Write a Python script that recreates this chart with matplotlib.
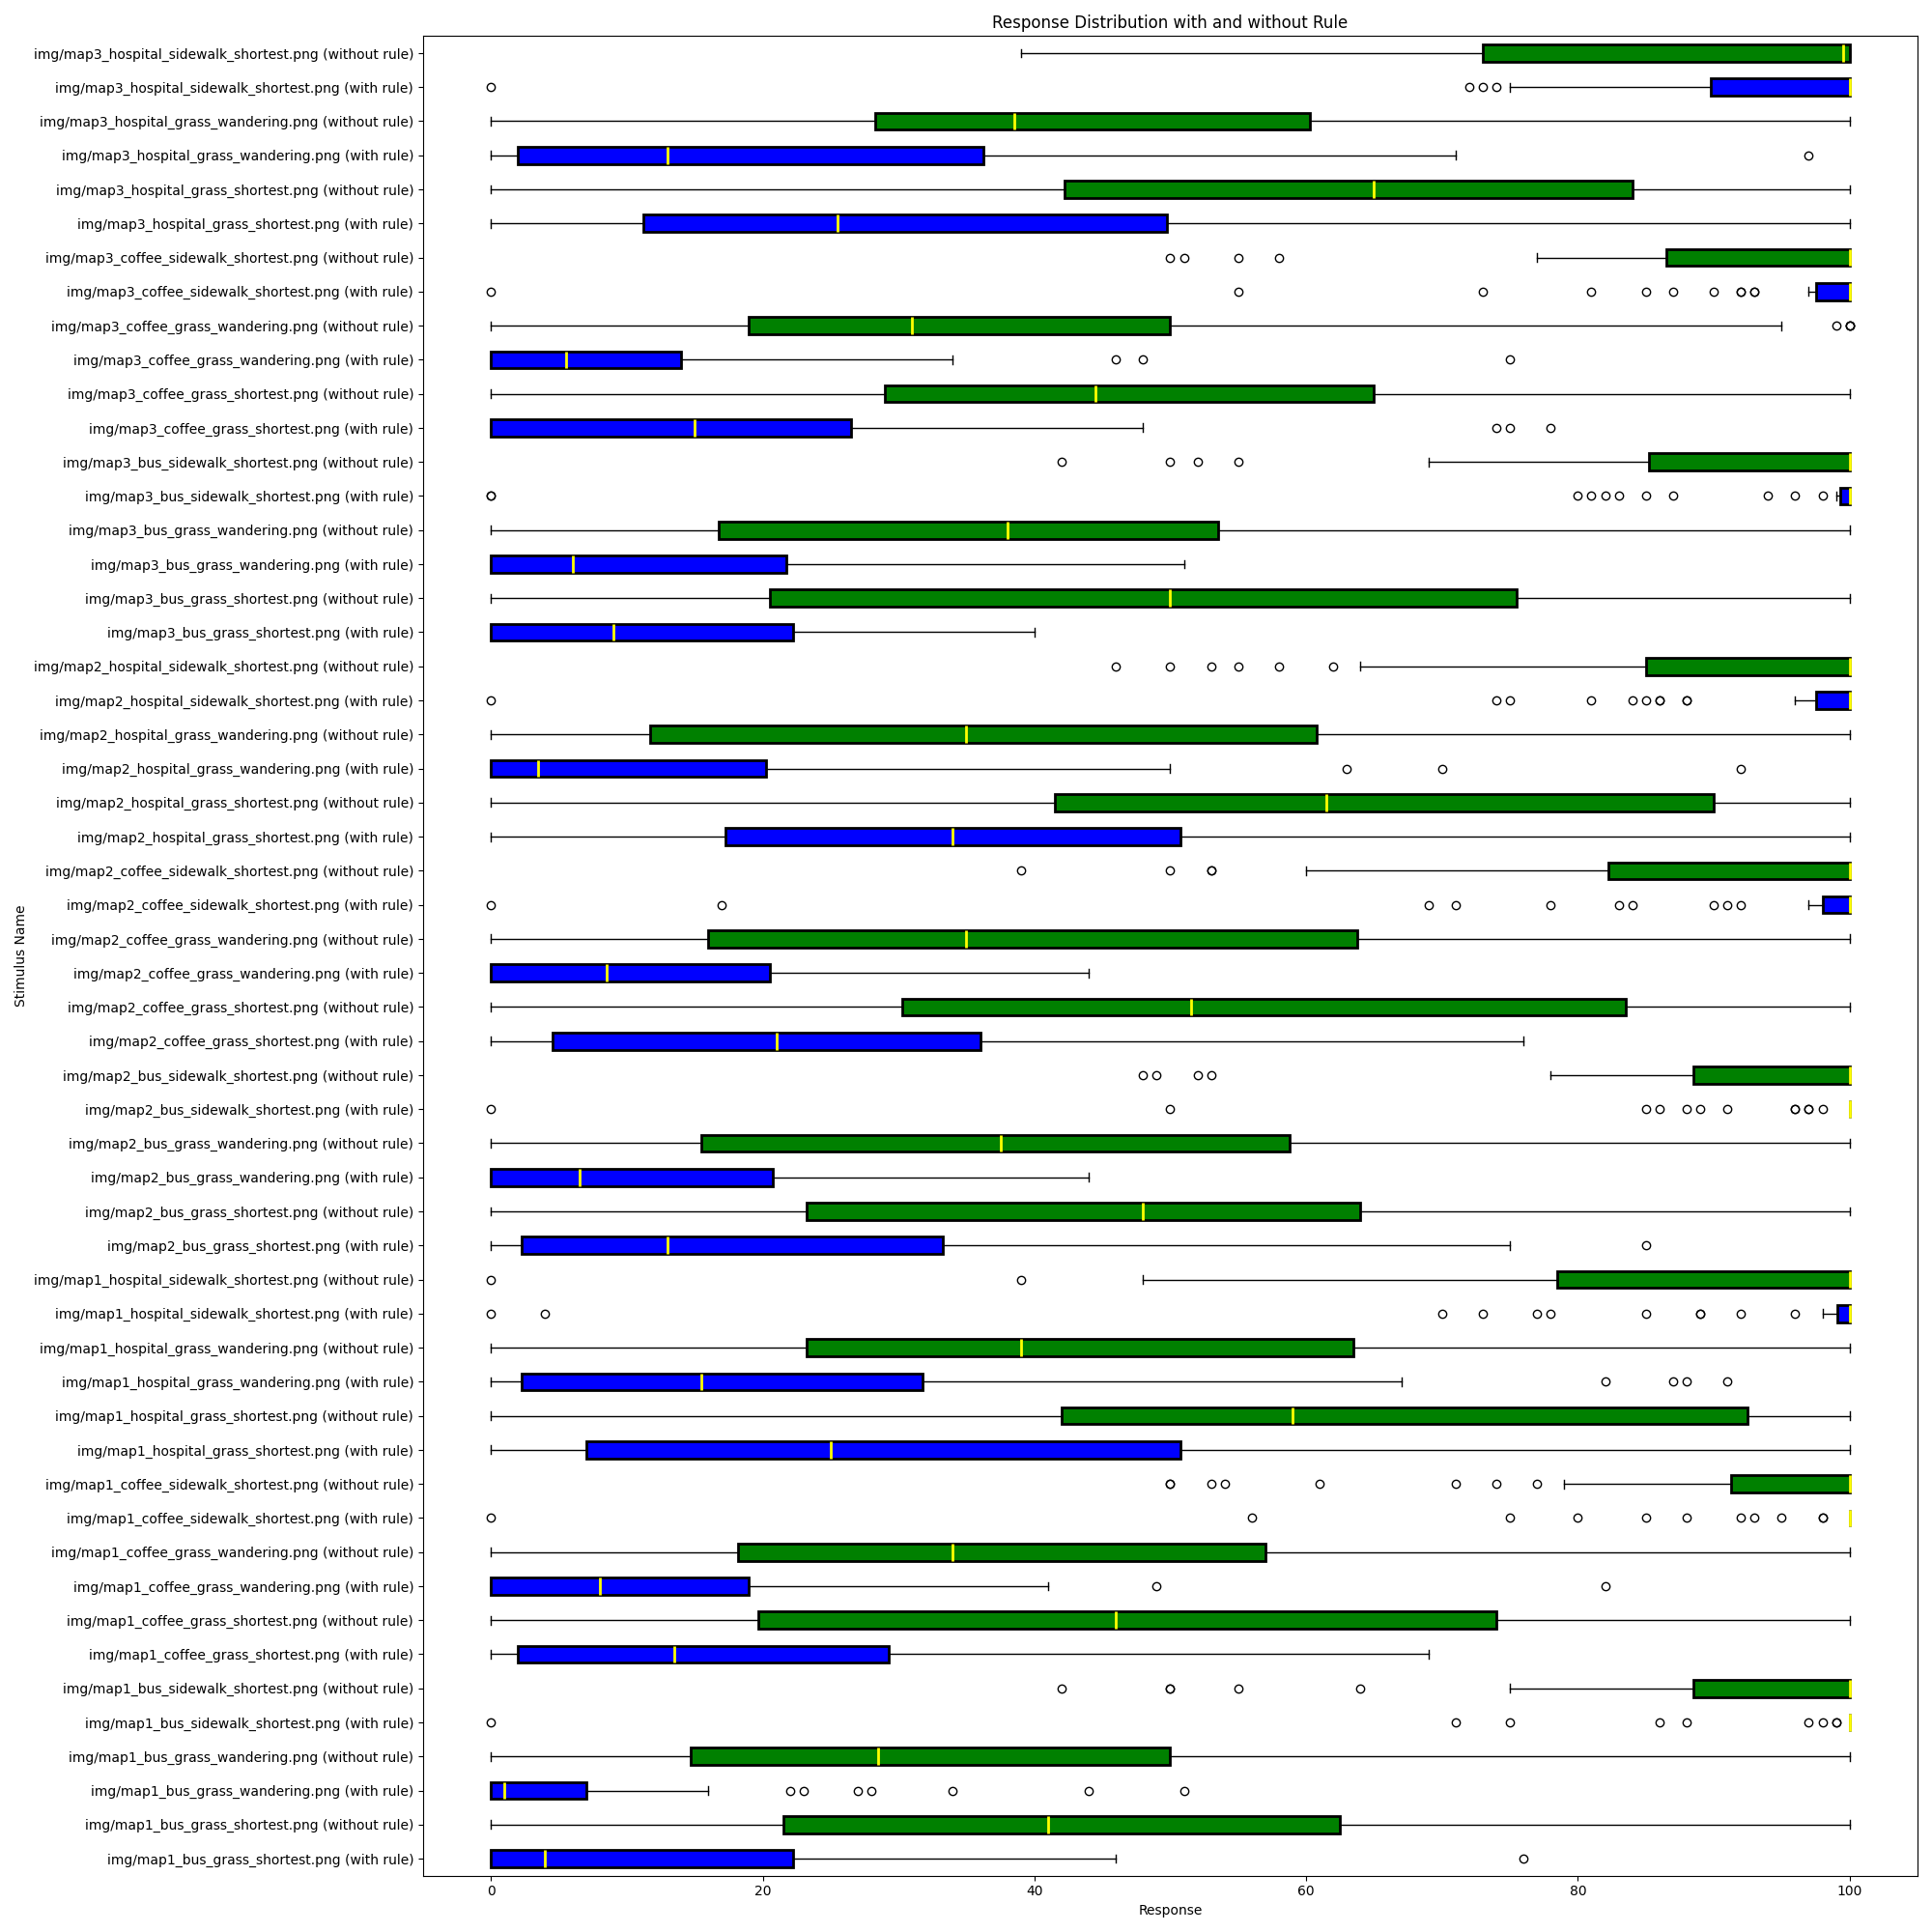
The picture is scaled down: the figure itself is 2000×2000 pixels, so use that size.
import matplotlib
matplotlib.use("Agg")
import matplotlib.pyplot as plt

# === Stimulus names (bottom row first) ===
maps = ["map1", "map2", "map3"]
places = ["bus", "coffee", "hospital"]
routes = ["grass_shortest", "grass_wandering", "sidewalk_shortest"]
rules = ["with rule", "without rule"]

labels = []
for m in maps:
    for p in places:
        for r in routes:
            for rule in rules:
                labels.append(f"img/{m}_{p}_{r}.png ({rule})")

# === Box values, same order as labels ===
whisker_low = [
    0, 0, 0, 0, 100, 75, 0, 0, 0, 0, 100, 79, 0, 0, 0, 0, 98, 48,
    0, 0, 0, 0, 100, 78, 0, 0, 0, 0, 97, 60, 0, 0, 0, 0, 96, 64,
    0, 0, 0, 0, 99, 69, 0, 0, 0, 0, 97, 77, 0, 0, 0, 0, 75, 39,
]
q1 = [
    0, 21.5, 0, 14.7, 100, 88.5, 2, 19.7, 0, 18.2, 100, 91.3, 7, 42, 2.25, 23.2, 99.1, 78.5,
    2.25, 23.2, 0, 15.5, 100, 88.5, 4.5, 30.25, 0, 16, 98, 82.25, 17.25, 41.5, 0, 11.75, 97.5, 85,
    0, 20.5, 0, 16.75, 99.3, 85.2, 0, 29, 0, 19, 97.5, 86.5, 11.2, 42.2, 2, 28.3, 89.8, 73,
]
medians = [
    4, 41, 1, 28.5, 100, 100, 13.5, 46, 8, 34, 100, 100, 25, 59, 15.5, 39, 100, 100,
    13, 48, 6.5, 37.5, 100, 100, 21, 51.5, 8.5, 35, 100, 100, 34, 61.5, 3.5, 35, 100, 100,
    9, 50, 6, 38, 100, 100, 15, 44.5, 5.5, 31, 100, 100, 25.5, 65, 13, 38.5, 100, 99.5,
]
q3 = [
    22.25, 62.5, 7, 50, 100, 100, 29.3, 74, 19, 57, 100, 100, 50.75, 92.5, 31.75, 63.5, 100, 100,
    33.25, 64, 20.75, 58.75, 100, 100, 36, 83.5, 20.5, 63.75, 100, 100, 50.75, 90, 20.25, 60.75, 100, 100,
    22.25, 75.5, 21.75, 53.5, 100, 100, 26.5, 65, 14, 50, 100, 100, 49.75, 84, 36.25, 60.25, 100, 100,
]
whisker_high = [
    46, 100, 16, 100, 100, 100, 69, 100, 41, 100, 100, 100, 100, 100, 67, 100, 100, 100,
    75, 100, 44, 100, 100, 100, 76, 100, 44, 100, 100, 100, 100, 100, 50, 100, 100, 100,
    40, 100, 51, 100, 100, 100, 48, 100, 34, 95, 100, 100, 100, 100, 71, 100, 100, 100,
]
outliers = [
    [76], [], [22, 23, 27, 28, 34, 44, 51], [],
    [0, 71, 75, 86, 88, 97, 98, 99, 99], [42, 50, 50, 55, 64],
    [], [], [49, 82], [],
    [0, 56, 75, 80, 85, 88, 92, 93, 95, 98, 98], [50, 50, 53, 54, 61, 71, 74, 77],
    [], [], [82, 87, 88, 91], [],
    [0, 4, 70, 73, 77, 78, 85, 89, 89, 92, 96], [0, 39],
    [85], [], [], [],
    [0, 50, 85, 86, 88, 89, 91, 96, 96, 97, 97, 98], [48, 49, 52, 53],
    [], [], [], [],
    [0, 17, 69, 71, 78, 83, 84, 90, 91, 92], [39, 50, 53, 53],
    [], [], [63, 70, 92], [],
    [0, 74, 75, 81, 84, 85, 86, 86, 88, 88], [46, 50, 53, 55, 58, 62],
    [], [], [], [],
    [0, 0, 80, 81, 82, 83, 85, 87, 94, 96, 98], [42, 50, 52, 55],
    [74, 75, 78], [], [46, 48, 75], [99, 100, 100, 100],
    [0, 55, 73, 81, 85, 87, 90, 92, 92, 93, 93], [50, 51, 55, 58],
    [], [], [97], [],
    [0, 72, 73, 74], [],
]

# === Build stats for bxp ===
stats = []
for i in range(len(labels)):
    stats.append({
        "label": labels[i],
        "whislo": whisker_low[i],
        "q1": q1[i],
        "med": medians[i],
        "q3": q3[i],
        "whishi": whisker_high[i],
        "fliers": outliers[i],
    })

# === Plot ===
fig, ax = plt.subplots(figsize=(20, 20))
bp = ax.bxp(stats, vert=False, patch_artist=True, widths=0.5,
            boxprops=dict(linewidth=2, edgecolor="black"),
            medianprops=dict(color="yellow", linewidth=2))

for i, box in enumerate(bp["boxes"]):
    box.set_facecolor("blue" if "(with rule)" in labels[i] else "green")

ax.set_title("Response Distribution with and without Rule")
ax.set_xlabel("Response")
ax.set_ylabel("Stimulus Name")
plt.tight_layout()
plt.savefig("out.png", dpi=100)
